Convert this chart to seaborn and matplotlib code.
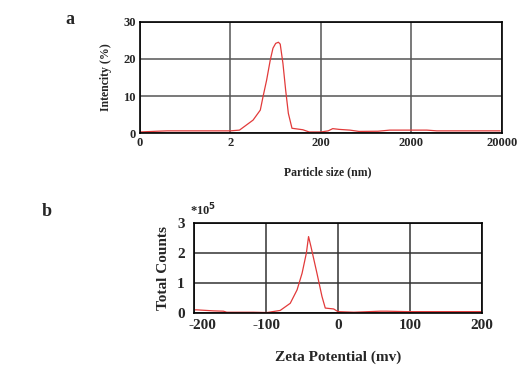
import seaborn as sns
import matplotlib.pyplot as plt
import matplotlib.transforms as mtransforms
import pandas as pd
import numpy as np

# Panel a: particle size distribution (x in axis divisions, one per decade label)
size_pos = [0.0, 0.19, 0.3, 1.0, 1.1, 1.25, 1.33, 1.36, 1.40, 1.44, 1.47, 1.50, 1.53,
            1.55, 1.58, 1.61, 1.64, 1.68, 1.80, 1.87, 2.0, 2.08, 2.13, 2.20, 2.32,
            2.42, 2.63, 2.76, 3.17, 3.28, 3.98]
intensity = [0.3, 0.5, 0.6, 0.6, 0.8, 3.5, 6.2, 9.8, 14.3, 19.7, 22.9, 24.2, 24.5,
             24.0, 18.8, 11.6, 5.3, 1.3, 0.9, 0.3, 0.3, 0.6, 1.2, 1.0, 0.8,
             0.45, 0.5, 0.8, 0.8, 0.6, 0.6]
size_ticks = [0, 1, 2, 3, 4]
size_labels = ['0', '2', '200', '2000', '20000']

# Panel b: zeta potential distribution (counts in units of 1e5)
zeta_mv = [-199, -196.7, -173.5, -159.5, -155, -117.7, -99, -80.5, -66.5, -57, -50,
           -44, -41, -37.7, -29.3, -22.3, -17.7, -6, 0, 22, 59, 68, 96, 199]
counts = [0.09, 0.09, 0.056, 0.045, 0.01, 0.01, 0.0, 0.07, 0.31, 0.76, 1.32,
          2.0, 2.55, 2.22, 1.32, 0.54, 0.15, 0.12, 0.03, 0.01, 0.045, 0.045, 0.03, 0.03]

sns.set_style('white')
plt.rcParams['font.family'] = ['Liberation Serif', 'DejaVu Serif']
plt.rcParams['font.weight'] = 'bold'
plt.rcParams['axes.unicode_minus'] = False

fig = plt.figure(figsize=(5.24, 3.77), dpi=100)
line_color = '#e23a3a'

# ---- panel a ----
ax1 = fig.add_axes([0.267, 0.647, 0.691, 0.295])
df_a = pd.DataFrame({'pos': size_pos, 'val': intensity})
sns.lineplot(data=df_a, x='pos', y='val', ax=ax1, color=line_color, linewidth=0.9)
ax1.set_xlim(0, 4)
ax1.set_ylim(0, 30)
ax1.set_xticks(size_ticks)
ax1.set_xticklabels(size_labels)
ax1.set_yticks([0, 10, 20, 30])
ax1.tick_params(length=0, labelsize=9, pad=3)
for lab in ax1.get_xticklabels() + ax1.get_yticklabels():
    lab.set_fontweight('bold')
ax1.grid(True, color='#555555', linewidth=1.1)
for s in ax1.spines.values():
    s.set_color('black')
    s.set_linewidth(1.2)
ax1.set_xlabel('Particle size (nm)', fontsize=8.5, fontweight='bold')
ax1.xaxis.set_label_coords(0.52, -0.3)
ax1.set_ylabel('Intencity (%)', fontsize=8.5, fontweight='bold', labelpad=8)

# ---- panel b ----
ax2 = fig.add_axes([0.371, 0.171, 0.548, 0.237])
df_b = pd.DataFrame({'mv': zeta_mv, 'cnt': counts})
sns.lineplot(data=df_b, x='mv', y='cnt', ax=ax2, color=line_color, linewidth=0.9)
ax2.set_xlim(-200, 200)
ax2.set_ylim(0, 3)
ax2.set_xticks([-200, -100, 0, 100, 200])
ax2.set_yticks([0, 1, 2, 3])
ax2.tick_params(length=0, labelsize=11)
ax2.tick_params(axis='x', pad=5)
ax2.tick_params(axis='y', pad=7)
for lab in ax2.get_xticklabels() + ax2.get_yticklabels():
    lab.set_fontweight('bold')
# nudge the first x label right so it clears the "0" of the y axis
first = ax2.get_xticklabels()[0]
first.set_transform(first.get_transform() +
                    mtransforms.ScaledTranslation(6 / 72, 0, fig.dpi_scale_trans))
ax2.grid(True, color='#333333', linewidth=1.1)
for s in ax2.spines.values():
    s.set_color('black')
    s.set_linewidth(1.2)
ax2.set_xlabel('Zeta Potential (mv)', fontsize=11, fontweight='bold', labelpad=13)
ax2.set_ylabel('Total Counts', fontsize=11, fontweight='bold', labelpad=5)

# panel letters and multiplier
fig.text(70 / 524, 1 - 20 / 377, 'a', fontsize=13, fontweight='bold', ha='center', va='center')
fig.text(47 / 524, 1 - 212 / 377, 'b', fontsize=13, fontweight='bold', ha='center', va='center')
fig.text(190 / 524, 1 - 210 / 377, r'*10$^{5}$', fontsize=9, fontweight='bold', ha='left', va='center')

fig.savefig('out.png', dpi=100)
